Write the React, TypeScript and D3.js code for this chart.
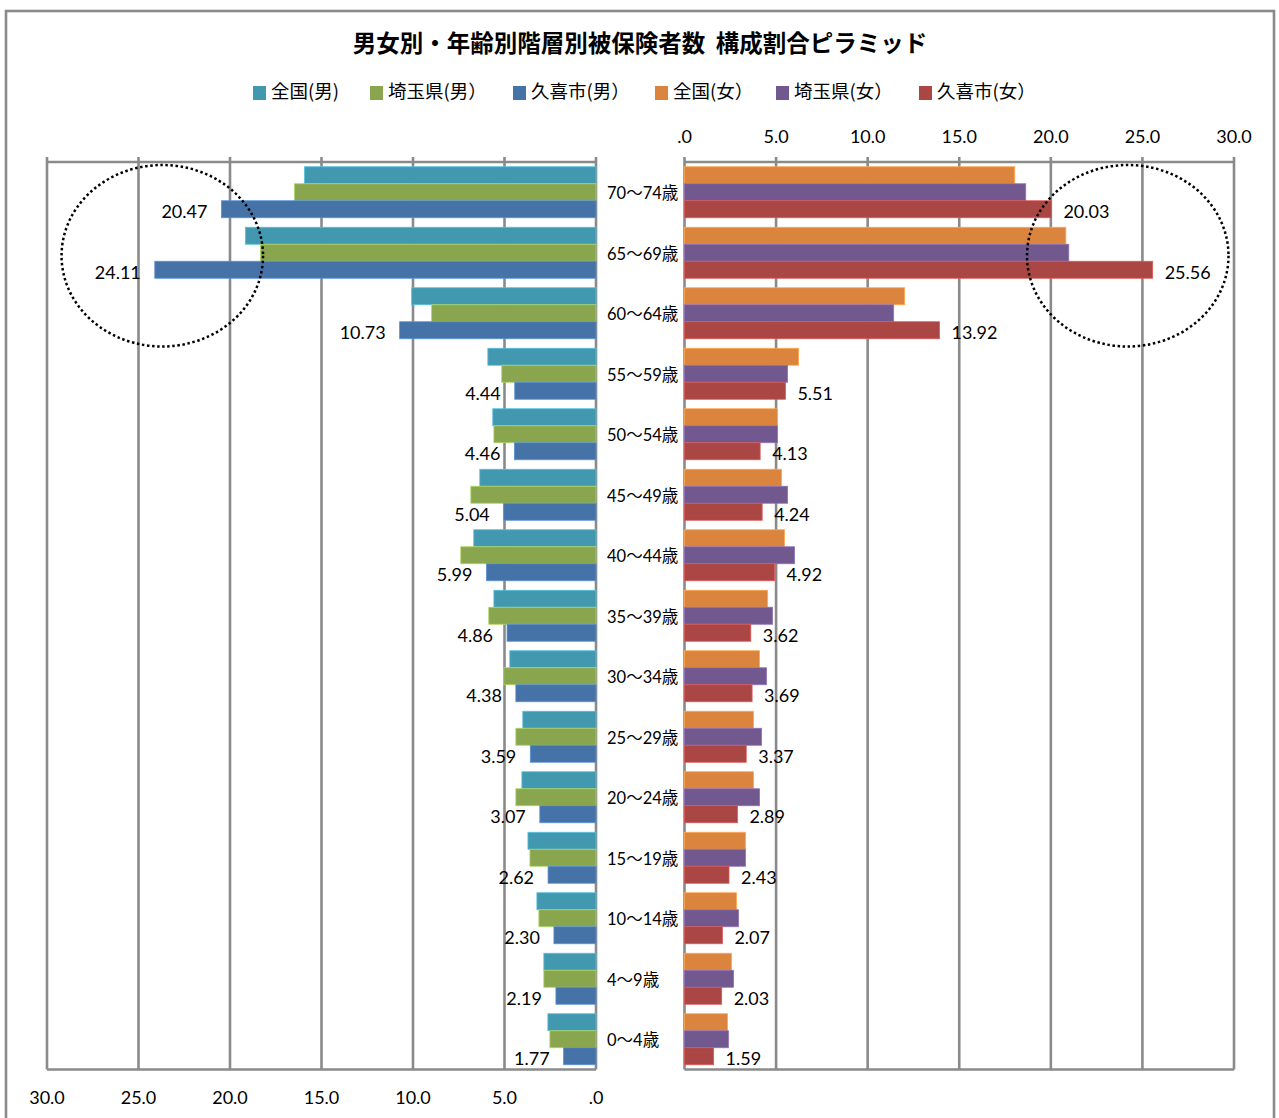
import React from "react";
import * as d3 from "d3";

const title = "男女別・年齢別階層別被保険者数\u00A0\u00A0構成割合ピラミッド";

const categories = [
  "70～74歳", "65～69歳", "60～64歳", "55～59歳", "50～54歳",
  "45～49歳", "40～44歳", "35～39歳", "30～34歳", "25～29歳",
  "20～24歳", "15～19歳", "10～14歳", "4～9歳", "0～4歳",
];

const maleNational = [15.93, 19.16, 10.07, 5.91, 5.64, 6.35, 6.68, 5.58, 4.71, 4.0, 4.05, 3.72, 3.23, 2.85, 2.63];
const maleSaitama = [16.47, 18.34, 8.98, 5.15, 5.58, 6.84, 7.39, 5.86, 5.04, 4.38, 4.38, 3.61, 3.12, 2.85, 2.52];
const maleKuki = [20.47, 24.11, 10.73, 4.44, 4.46, 5.04, 5.99, 4.86, 4.38, 3.59, 3.07, 2.62, 2.30, 2.19, 1.77];

const femaleNational = [18.03, 20.82, 12.02, 6.23, 5.08, 5.30, 5.46, 4.54, 4.10, 3.77, 3.77, 3.33, 2.84, 2.57, 2.35];
const femaleSaitama = [18.63, 20.98, 11.42, 5.63, 5.08, 5.63, 6.01, 4.81, 4.48, 4.21, 4.10, 3.33, 2.95, 2.68, 2.40];
const femaleKuki = [20.03, 25.56, 13.92, 5.51, 4.13, 4.24, 4.92, 3.62, 3.69, 3.37, 2.89, 2.43, 2.07, 2.03, 1.59];

const legendLabels = ["全国(男)", "埼玉県(男）", "久喜市(男）", "全国(女）", "埼玉県(女）", "久喜市(女）"];
const seriesColors = ["#4198AF", "#89A54E", "#4572A7", "#DB843D", "#71588F", "#AA4643"];

const tickValues = [0, 5, 10, 15, 20, 25, 30];
const tickLabels = [".0", "5.0", "10.0", "15.0", "20.0", "25.0", "30.0"];

// Annotation ellipses (value-space centre, radii)
const highlightCategory = "65～69歳";
const highlightValue = [23.7, 24.2];
const highlightRx = 5.5;

const W = 1279;
const H = 1118;
const TOP = 162;
const BOTTOM = 1069.5;
const GRID = "#8a8a8a";
const NUM_FONT = "Lato, 'Open Sans', sans-serif";
const JP_FONT = "'Noto Sans CJK JP', sans-serif";

export default function App() {
  const xLeft = d3.scaleLinear().domain([0, 30]).range([596, 47]);
  const xRight = d3.scaleLinear().domain([0, 30]).range([684.5, 1234]);
  const y = d3.scaleBand<string>().domain(categories).range([TOP, BOTTOM]).paddingInner(0.157).paddingOuter(0.0785);
  const sub = d3.scaleBand<number>().domain([0, 1, 2]).range([0, y.bandwidth()]);

  const left = [maleNational, maleSaitama, maleKuki];
  const right = [femaleNational, femaleSaitama, femaleKuki];

  const bars: React.ReactNode[] = [];
  const labels: React.ReactNode[] = [];
  categories.forEach((c, i) => {
    const y0 = y(c)!;
    left.forEach((s, k) => {
      const x1 = xLeft(s[i]);
      const col = seriesColors[k];
      bars.push(
        <rect key={`l${i}-${k}`} x={x1} y={y0 + sub(k)!} width={xLeft(0) - x1} height={sub.bandwidth()}
          fill={col} stroke={d3.color(col)!.brighter(0.7).formatHex()} strokeWidth={0.8} />
      );
    });
    right.forEach((s, k) => {
      const x1 = xRight(s[i]);
      const col = seriesColors[k + 3];
      bars.push(
        <rect key={`r${i}-${k}`} x={xRight(0)} y={y0 + sub(k)!} width={x1 - xRight(0)} height={sub.bandwidth()}
          fill={col} stroke={d3.color(col)!.brighter(0.7).formatHex()} strokeWidth={0.8} />
      );
    });
    const yk = y0 + sub(2)! + sub.bandwidth() / 2 + 2;
    labels.push(
      <text key={`lv${i}`} x={xLeft(maleKuki[i]) - 14} y={yk} textAnchor="end" dominantBaseline="central"
        fontFamily={NUM_FONT} fontSize={18} fill="#000">{maleKuki[i].toFixed(2)}</text>
    );
    labels.push(
      <text key={`rv${i}`} x={xRight(femaleKuki[i]) + 12} y={yk} textAnchor="start" dominantBaseline="central"
        fontFamily={NUM_FONT} fontSize={18} fill="#000">{femaleKuki[i].toFixed(2)}</text>
    );
    labels.push(
      <text key={`c${i}`} x={607} y={y0 + y.bandwidth() / 2 + 1} textAnchor="start" dominantBaseline="central"
        fontFamily={`Lato, ${JP_FONT}`} fontSize={16.5} fill="#000">{c}</text>
    );
  });

  const grid: React.ReactNode[] = [];
  [xLeft, xRight].forEach((sc, si) => {
    tickValues.forEach((t, ti) => {
      grid.push(
        <line key={`g${si}-${ti}`} x1={sc(t)} x2={sc(t)} y1={TOP - 5} y2={BOTTOM} stroke={GRID} strokeWidth={2.6} />
      );
    });
    grid.push(<line key={`top${si}`} x1={sc(30)} x2={sc(0)} y1={TOP} y2={TOP} stroke={GRID} strokeWidth={2.6} />);
    grid.push(<line key={`bot${si}`} x1={sc(30)} x2={sc(0)} y1={BOTTOM} y2={BOTTOM} stroke={GRID} strokeWidth={2.6} />);
  });

  const legendX = [253, 370, 513, 655, 776, 919];

  const hy = y(highlightCategory)! + y.bandwidth() / 2 + 3;
  const pxPerUnit = xRight(1) - xRight(0);

  return (
    <div style={{ position: "absolute", left: 0, top: 0 }}>
      <svg width={W} height={H} style={{ display: "block" }}>
        <rect x={0} y={0} width={W} height={H} fill="#fff" />
        <rect x={6} y={11} width={1268} height={1130} fill="none" stroke={GRID} strokeWidth={2.6} />
        <text x={640} y={42} textAnchor="middle" dominantBaseline="central" fontFamily={JP_FONT}
          fontWeight="bold" fontSize={23.5} fill="#000">{title}</text>
        {legendLabels.map((l, i) => (
          <g key={`lg${i}`}>
            <rect x={legendX[i]} y={86} width={13} height={14} fill={seriesColors[i]} />
            <text x={legendX[i] + 18} y={90} dominantBaseline="central" fontFamily={JP_FONT} fontSize={18.5} fill="#000">{l}</text>
          </g>
        ))}
        {grid}
        {bars}
        {labels}
        {tickValues.map((t, i) => (
          <text key={`tr${i}`} x={xRight(t)} y={136} textAnchor="middle" dominantBaseline="central"
            fontFamily={NUM_FONT} fontSize={18} fill="#000">{tickLabels[i]}</text>
        ))}
        {tickValues.map((t, i) => (
          <text key={`tl${i}`} x={xLeft(t)} y={1097} textAnchor="middle" dominantBaseline="central"
            fontFamily={NUM_FONT} fontSize={18} fill="#000">{tickLabels[i]}</text>
        ))}
        <ellipse cx={xLeft(highlightValue[0])} cy={hy} rx={highlightRx * pxPerUnit} ry={y.step() * 1.5}
          fill="none" stroke="#000" strokeWidth={2.5} strokeDasharray="2.5 2.6" />
        <ellipse cx={xRight(highlightValue[1])} cy={hy} rx={highlightRx * pxPerUnit} ry={y.step() * 1.5}
          fill="none" stroke="#000" strokeWidth={2.5} strokeDasharray="2.5 2.6" />
      </svg>
    </div>
  );
}
